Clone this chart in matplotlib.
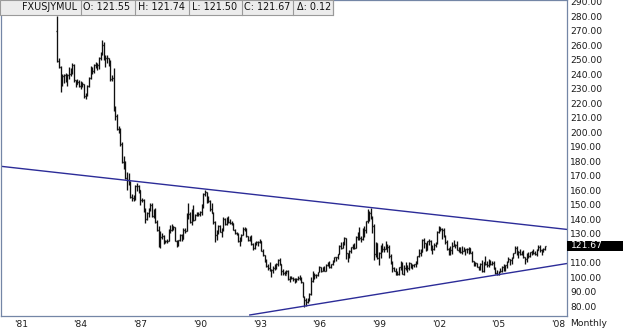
#!/usr/bin/env python3
import matplotlib
matplotlib.use("Agg")
import matplotlib.pyplot as plt
from matplotlib.collections import LineCollection
from matplotlib.patches import Rectangle
import numpy as np


# monthly USD/JPY bars, Nov 1982 .. May 2007
START_YEAR, START_MONTH = 1982, 11
FIRST_OPEN = 270.0
CLOSE = [
    249.0, 245.0,
    233.0, 238.7, 239.2, 237.1, 239.3, 240.0, 241.5, 246.5, 235.8, 233.4, 235.0, 232.0,
    234.0, 233.0, 225.0, 225.6, 232.0, 237.5, 244.5, 242.5, 246.3, 246.8, 246.5, 251.1,
    254.2, 260.4, 251.6, 251.3, 251.5, 248.5, 236.4, 237.4, 216.5, 211.1, 202.1, 200.5,
    192.1, 179.6, 179.2, 168.5, 167.4, 165.5, 155.2, 154.4, 154.6, 162.8, 163.1, 160.1,
    153.5, 153.3, 146.5, 140.4, 144.5, 147.0, 149.6, 142.1, 146.6, 138.2, 132.8, 122.0,
    127.5, 128.6, 124.4, 124.8, 124.8, 132.9, 132.6, 135.3, 134.5, 125.3, 122.0, 125.5,
    129.0, 126.3, 132.9, 132.2, 143.2, 143.7, 138.0, 145.3, 139.4, 143.0, 143.3, 143.4,
    145.1, 150.0, 157.6, 159.1, 152.0, 152.8, 146.8, 144.5, 137.9, 129.1, 132.2, 135.4,
    131.3, 133.0, 140.4, 137.0, 138.6, 137.9, 137.2, 137.2, 132.7, 130.5, 129.7, 124.9,
    125.3, 129.4, 133.2, 133.2, 128.3, 125.9, 127.6, 123.2, 120.2, 123.2, 124.4, 124.6,
    124.7, 117.9, 115.4, 111.1, 107.5, 106.5, 104.8, 104.9, 106.1, 108.4, 109.2, 111.9,
    109.2, 104.5, 102.8, 101.9, 104.6, 98.5, 100.0, 99.6, 98.9, 97.3, 98.9, 99.7,
    99.6, 96.8, 86.6, 84.3, 83.1, 84.6, 88.4, 97.4, 99.7, 101.9, 101.5, 103.3,
    106.8, 104.6, 106.9, 104.6, 108.6, 109.8, 106.8, 108.9, 111.4, 114.0, 113.7, 116.0,
    121.3, 120.3, 124.0, 126.8, 116.5, 114.4, 118.4, 121.0, 120.6, 120.3, 127.6, 130.4,
    127.1, 126.4, 133.5, 132.5, 138.8, 139.6, 144.4, 141.7, 135.5, 116.3, 123.3, 113.6,
    116.4, 119.3, 119.6, 119.4, 121.5, 121.0, 115.0, 109.6, 106.2, 104.5, 102.2, 102.2,
    107.3, 109.5, 102.6, 106.4, 107.9, 106.2, 109.8, 106.8, 108.2, 109.1, 110.4, 114.4,
    116.4, 117.3, 125.5, 123.7, 118.7, 124.7, 125.0, 118.9, 119.3, 122.4, 123.5, 131.5,
    134.7, 133.5, 132.7, 128.5, 124.0, 119.5, 119.9, 118.5, 121.8, 122.5, 122.4, 118.8,
    119.9, 117.6, 118.1, 118.9, 119.3, 119.8, 120.5, 116.9, 111.4, 109.8, 109.6, 107.2,
    105.8, 109.1, 104.2, 110.4, 109.5, 108.7, 111.4, 109.2, 110.0, 105.8, 103.1, 102.6,
    103.6, 104.6, 107.2, 104.8, 108.4, 110.7, 112.5, 111.6, 113.5, 116.4, 119.9, 117.9,
    117.2, 115.9, 117.6, 113.8, 112.5, 114.4, 114.6, 117.3, 118.1, 116.9, 115.8, 119.0,
    120.7, 118.6, 117.8, 119.4, 121.67,
]
HIGH = [
    280.5, 251.5,
    246.0, 240.0, 240.5, 241.0, 240.0, 245.0, 244.0, 247.5, 247.0, 236.0, 236.5, 236.0,
    235.5, 234.5, 233.0, 227.0, 232.5, 238.0, 245.5, 245.0, 247.0, 248.5, 247.5, 251.7,
    255.0, 263.6, 262.0, 253.5, 253.0, 251.0, 249.7, 239.5, 244.0, 218.3, 212.3, 204.0,
    203.0, 193.2, 183.9, 180.0, 172.4, 172.0, 166.5, 157.7, 156.8, 163.4, 165.2, 163.5,
    160.3, 155.0, 153.8, 147.5, 145.0, 148.0, 151.0, 151.5, 147.0, 147.7, 139.2, 135.7,
    131.8, 130.8, 129.0, 125.6, 126.5, 133.5, 136.3, 136.5, 135.7, 134.8, 126.0, 126.0,
    129.5, 130.0, 134.0, 134.0, 144.0, 151.4, 145.0, 147.0, 149.5, 143.8, 145.0, 145.0,
    146.0, 150.5, 158.2, 160.4, 159.0, 155.8, 153.0, 151.3, 145.2, 138.8, 132.9, 136.3,
    136.0, 134.0, 141.7, 141.0, 141.3, 142.0, 140.0, 138.5, 137.5, 133.3, 131.3, 130.7,
    127.5, 129.6, 134.7, 134.4, 133.8, 128.4, 128.5, 129.0, 123.5, 124.3, 125.3, 125.1,
    126.1, 125.2, 119.2, 115.3, 112.6, 109.2, 110.8, 106.0, 108.0, 108.9, 109.8, 112.6,
    113.6, 109.2, 105.5, 104.4, 105.2, 104.9, 101.1, 101.0, 100.2, 99.6, 99.4, 100.8,
    101.6, 99.9, 96.9, 86.9, 86.0, 86.0, 89.0, 99.9, 104.3, 102.9, 102.5, 103.5,
    107.9, 107.3, 107.3, 108.0, 109.2, 110.5, 111.5, 109.4, 111.6, 114.3, 114.1, 116.2,
    122.0, 124.6, 124.5, 127.5, 127.1, 116.6, 118.8, 121.1, 122.8, 123.6, 128.4, 131.4,
    134.6, 128.2, 133.9, 135.3, 139.1, 146.8, 145.7, 147.6, 142.4, 136.6, 124.2, 123.5,
    117.4, 122.1, 123.3, 121.7, 124.8, 122.7, 122.3, 116.1, 111.3, 107.2, 106.4, 104.3,
    107.4, 111.5, 110.7, 108.6, 110.3, 108.7, 110.2, 110.0, 109.0, 109.3, 111.3, 114.8,
    119.3, 119.3, 126.2, 126.8, 123.9, 125.2, 126.7, 125.4, 122.3, 123.4, 124.6, 131.6,
    135.2, 134.7, 133.9, 133.7, 129.0, 126.0, 120.2, 121.4, 124.2, 125.7, 123.1, 125.3,
    120.6, 121.2, 121.6, 120.6, 119.4, 119.9, 120.9, 120.4, 118.4, 111.2, 110.7, 109.8,
    107.7, 109.8, 112.2, 110.5, 114.9, 111.2, 112.3, 111.7, 111.3, 111.5, 106.8, 104.8,
    104.4, 106.1, 107.5, 108.9, 108.6, 111.0, 113.7, 112.8, 114.1, 116.5, 121.4, 121.4,
    118.2, 119.4, 118.4, 118.7, 113.8, 116.4, 117.5, 117.4, 118.3, 119.8, 118.3, 119.4,
    122.2, 122.2, 119.3, 119.9, 121.9,
]
LOW = [
    248.5, 244.0,
    228.0, 232.0, 234.0, 235.0, 232.0, 237.0, 239.0, 240.0, 235.0, 231.0, 233.0, 231.0,
    230.0, 231.5, 223.8, 222.8, 225.0, 231.0, 236.8, 240.0, 240.7, 244.5, 242.6, 243.5,
    249.5, 253.2, 249.5, 244.8, 248.0, 246.0, 235.5, 235.4, 215.0, 208.7, 201.8, 199.8,
    190.8, 179.0, 174.5, 168.0, 160.0, 163.6, 155.0, 152.5, 152.9, 153.4, 159.8, 157.8,
    149.9, 151.6, 145.3, 137.3, 139.8, 141.3, 145.5, 141.3, 140.6, 137.5, 132.2, 120.9,
    120.3, 126.5, 123.2, 123.3, 123.5, 124.7, 130.7, 132.0, 132.8, 125.0, 121.0, 121.4,
    124.7, 124.8, 126.2, 130.5, 131.6, 140.2, 137.4, 136.3, 139.0, 139.2, 142.2, 142.0,
    142.5, 143.2, 148.0, 156.2, 151.1, 151.7, 145.8, 144.2, 136.8, 124.1, 125.6, 129.6,
    131.0, 127.5, 132.2, 135.8, 136.3, 137.5, 136.5, 136.0, 132.5, 129.9, 129.3, 124.6,
    121.9, 124.9, 129.2, 131.6, 127.6, 125.2, 124.7, 122.5, 118.6, 119.4, 122.6, 121.5,
    123.3, 117.8, 114.4, 110.5, 107.4, 105.2, 104.5, 100.4, 103.0, 104.9, 105.6, 107.9,
    108.6, 101.7, 101.7, 101.3, 102.2, 98.1, 96.6, 99.1, 97.6, 96.1, 96.6, 98.4,
    98.1, 96.4, 86.5, 79.8, 80.3, 82.2, 83.8, 87.5, 96.5, 98.6, 99.4, 100.9,
    103.3, 103.6, 104.2, 104.1, 104.2, 107.6, 106.5, 106.4, 108.3, 110.7, 111.0, 112.6,
    115.8, 119.6, 120.2, 122.3, 112.9, 110.7, 113.6, 116.9, 119.4, 119.6, 120.3, 125.8,
    125.8, 124.6, 125.9, 127.5, 130.7, 137.3, 138.9, 140.2, 130.4, 111.6, 114.3, 112.4,
    108.3, 113.5, 117.6, 117.6, 119.7, 117.3, 113.2, 109.4, 103.7, 104.0, 101.6, 101.4,
    101.6, 104.9, 102.2, 101.5, 105.3, 103.7, 105.3, 106.1, 105.5, 107.3, 106.9, 109.5,
    113.9, 115.0, 117.6, 120.4, 118.4, 118.8, 122.3, 118.7, 115.8, 118.5, 120.8, 122.8,
    130.3, 131.8, 126.2, 127.7, 123.1, 119.0, 115.6, 115.5, 116.3, 121.3, 120.3, 118.6,
    117.2, 117.0, 115.9, 117.9, 115.4, 116.8, 115.9, 116.5, 110.5, 107.9, 107.7, 106.9,
    105.2, 104.9, 103.4, 103.8, 108.6, 106.9, 106.9, 108.7, 108.7, 105.6, 102.1, 101.8,
    101.7, 103.3, 103.8, 104.2, 104.6, 106.6, 110.6, 108.8, 109.4, 113.1, 116.4, 115.6,
    113.4, 115.4, 115.2, 113.2, 108.9, 110.6, 113.4, 113.9, 115.4, 116.3, 115.2, 114.4,
    118.5, 117.5, 115.2, 117.6, 118.9,
]

# trend lines, (decimal year, price)
UPPER_LINE = [(1979.95, 176.6), (2008.44, 133.0)]
LOWER_LINE = [(1992.5, 74.0), (2008.44, 109.5)]

YEAR_TICKS = [1981, 1984, 1987, 1990, 1993, 1996, 1999, 2002, 2005, 2008]
PRICE_TICKS = list(range(80, 300, 10))
LAST_PRICE = 121.67
HEADER = [
    ("FXUSJYMUL", 77, "right"),
    ("O: 121.55", 83, "left"),
    ("H: 121.74", 138, "left"),
    ("L: 121.50", 192, "left"),
    ("C: 121.67", 244, "left"),
    ("\u0394: 0.12", 297, "left"),
]
HEADER_SEPARATORS = [81, 135, 189, 242, 293, 333]

W, H = 625, 333
FRAME = "#7486a6"
FONT = 6.6

fig = plt.figure(figsize=(W / 100, H / 100), dpi=100)
ax = fig.add_axes([1 / W, 17 / H, 566 / W, 316 / H])

close = np.array(CLOSE)
high = np.array(HIGH)
low = np.array(LOW)
opens = np.concatenate([[FIRST_OPEN], close[:-1]])
x = START_YEAR + (START_MONTH - 1) / 12 + np.arange(len(close)) / 12
tick = 0.045

segs = []
for xi, o, h, l, c in zip(x, opens, high, low, close):
    segs.append([(xi, l), (xi, h)])
    segs.append([(xi - tick, o), (xi, o)])
    segs.append([(xi, c), (xi + tick, c)])
ax.add_collection(LineCollection(segs, colors="#101010", linewidths=0.95))

for line in (UPPER_LINE, LOWER_LINE):
    xs, ys = zip(*line)
    ax.plot(xs, ys, color="#2c2c98", linewidth=1.0)

ax.set_xlim(1980.0, 2008.44)
ax.set_ylim(73.3, 291.2)

# the last-price box hides the nearest grid label, as in the source chart
ax.yaxis.tick_right()
ax.set_yticks(PRICE_TICKS)
ax.set_yticklabels(["" if abs(v - LAST_PRICE) < 5 else f"{v:.2f}" for v in PRICE_TICKS])
ax.set_xticks(YEAR_TICKS)
ax.set_xticklabels([f"'{y % 100:02d}" for y in YEAR_TICKS])
ax.tick_params(axis="both", length=0, labelsize=FONT, colors="#1a1a1a")
ax.tick_params(axis="y", pad=2.4)
ax.tick_params(axis="x", pad=2.6)
for spine in ax.spines.values():
    spine.set_color(FRAME)
    spine.set_linewidth(0.9)

# last price marker on the price axis
trans = ax.get_yaxis_transform()
ax.add_patch(Rectangle((1.0, LAST_PRICE - 3.6), 56 / 566, 7.2, transform=trans,
                       facecolor="black", edgecolor="none", clip_on=False, zorder=5))
ax.text(1.0 + 4 / 566, LAST_PRICE, f"{LAST_PRICE:.2f}", transform=trans,
        color="white", fontsize=FONT, va="center", ha="left", zorder=6, clip_on=False)

fig.text(570 / W, 1 - 324 / H, "Monthly", fontsize=FONT, va="center", ha="left",
         color="#1a1a1a")

# symbol / OHLC header strip
fig.patches.append(Rectangle((0, 1 - 15 / H), 333 / W, 15 / H, transform=fig.transFigure,
                             facecolor="#ececec", edgecolor="#9a9a9a", linewidth=0.8,
                             zorder=10))
for sx in HEADER_SEPARATORS:
    fig.add_artist(plt.Line2D([sx / W, sx / W], [1 - 15 / H, 1], transform=fig.transFigure,
                              color="#9a9a9a", linewidth=0.8, zorder=11))
for label, px, align in HEADER:
    fig.text(px / W, 1 - 7.5 / H, label, fontsize=FONT + 0.3, ha=align, va="center",
             color="#111111", zorder=12)

fig.savefig("out.png", dpi=100)
